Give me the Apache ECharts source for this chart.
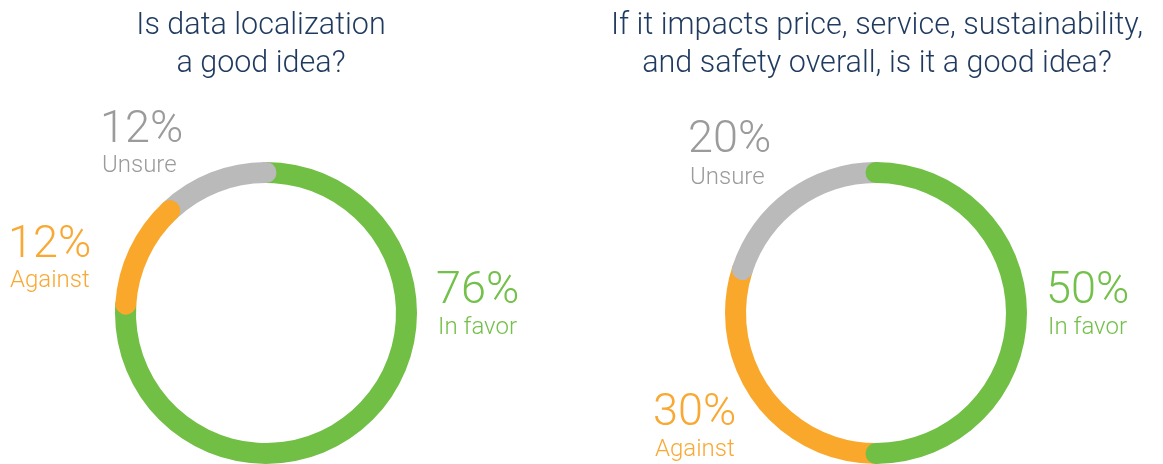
<!DOCTYPE html>
<html>
<head>
<meta charset="utf-8">
<script src="https://cdn.jsdelivr.net/npm/echarts@6/dist/echarts.min.js"></script>
<style>
  html, body { margin: 0; padding: 0; background: #ffffff; }
  #chart { width: 1163px; height: 464px; }
</style>
</head>
<body>
<div id="chart"></div>
<script>
// Survey answers, in percent
const categories = ['In favor', 'Against', 'Unsure'];
const localizationValues = [76, 12, 12];
const impactValues = [50, 30, 20];
const titles = [
  'Is data localization\na good idea?',
  'If it impacts price, service, sustainability,\nand safety overall, is it a good idea?'
];

const COLORS = { 'In favor': '#71bf45', 'Against': '#f9a82c', 'Unsure': '#bababa' };
const TEXT_COLORS = { 'In favor': '#73c04a', 'Against': '#f9a933', 'Unsure': '#9b9b9b' };
const FONT = 'Roboto, "Open Sans", sans-serif';

// Ring geometry and drawing order of the segments for each donut
const rings = [
  { values: localizationValues, center: [266, 313], z: { 'In favor': 2, 'Unsure': 3, 'Against': 4 } },
  { values: impactValues, center: [876, 313], z: { 'Against': 2, 'Unsure': 3, 'In favor': 4 } }
];

// Label placement for each donut: x of the left edge, y of the percent and name lines
const labelSpots = [
  {
    'Unsure': { x: 100, py: 131, ny: 166 },
    'Against': { x: 8, py: 246, ny: 281 },
    'In favor': { x: 436, py: 292, ny: 328 }
  },
  {
    'Unsure': { x: 688, py: 141, ny: 178 },
    'Against': { x: 653, py: 414, ny: 450 },
    'In favor': { x: 1046, py: 292, ny: 328 }
  }
];
const titleCenters = [261, 877];

const chart = echarts.init(document.getElementById('chart'), null, { renderer: 'canvas' });

const polar = [], angleAxis = [], radiusAxis = [], series = [], graphic = [];

rings.forEach((ring, i) => {
  polar.push({ center: ring.center, radius: [130, 151] });
  angleAxis.push({
    polarIndex: i, type: 'value', min: 0, max: 100, startAngle: 90, clockwise: true,
    show: false, axisLine: { show: false }, splitLine: { show: false }
  });
  radiusAxis.push({ polarIndex: i, type: 'category', data: ['ring'], show: false });
  categories.forEach((cat, k) => {
    series.push({
      type: 'bar',
      name: cat,
      coordinateSystem: 'polar',
      polarIndex: i,
      stack: 'ring' + i,
      roundCap: true,
      barCategoryGap: '0%',
      z: ring.z[cat],
      silent: true,
      itemStyle: { color: COLORS[cat] },
      data: [ring.values[k]]
    });
    const spot = labelSpots[i][cat];
    graphic.push({
      type: 'text', x: spot.x, y: spot.py, silent: true,
      style: {
        text: ring.values[k] + '%', fill: TEXT_COLORS[cat],
        font: '300 45px ' + FONT, textAlign: 'left', textVerticalAlign: 'middle'
      }
    });
    graphic.push({
      type: 'text', x: spot.x + 2, y: spot.ny, silent: true,
      style: {
        text: cat, fill: TEXT_COLORS[cat],
        font: '300 24px ' + FONT, textAlign: 'left', textVerticalAlign: 'middle'
      }
    });
  });
  graphic.push({
    type: 'text', x: titleCenters[i], y: 7, silent: true,
    style: {
      text: titles[i], fill: '#1f3a5e',
      font: '300 30.5px ' + FONT, lineHeight: 38,
      textAlign: 'center', textVerticalAlign: 'top'
    }
  });
});

chart.setOption({
  animation: false,
  backgroundColor: '#ffffff',
  polar, angleAxis, radiusAxis, series, graphic
});
</script>
</body>
</html>
